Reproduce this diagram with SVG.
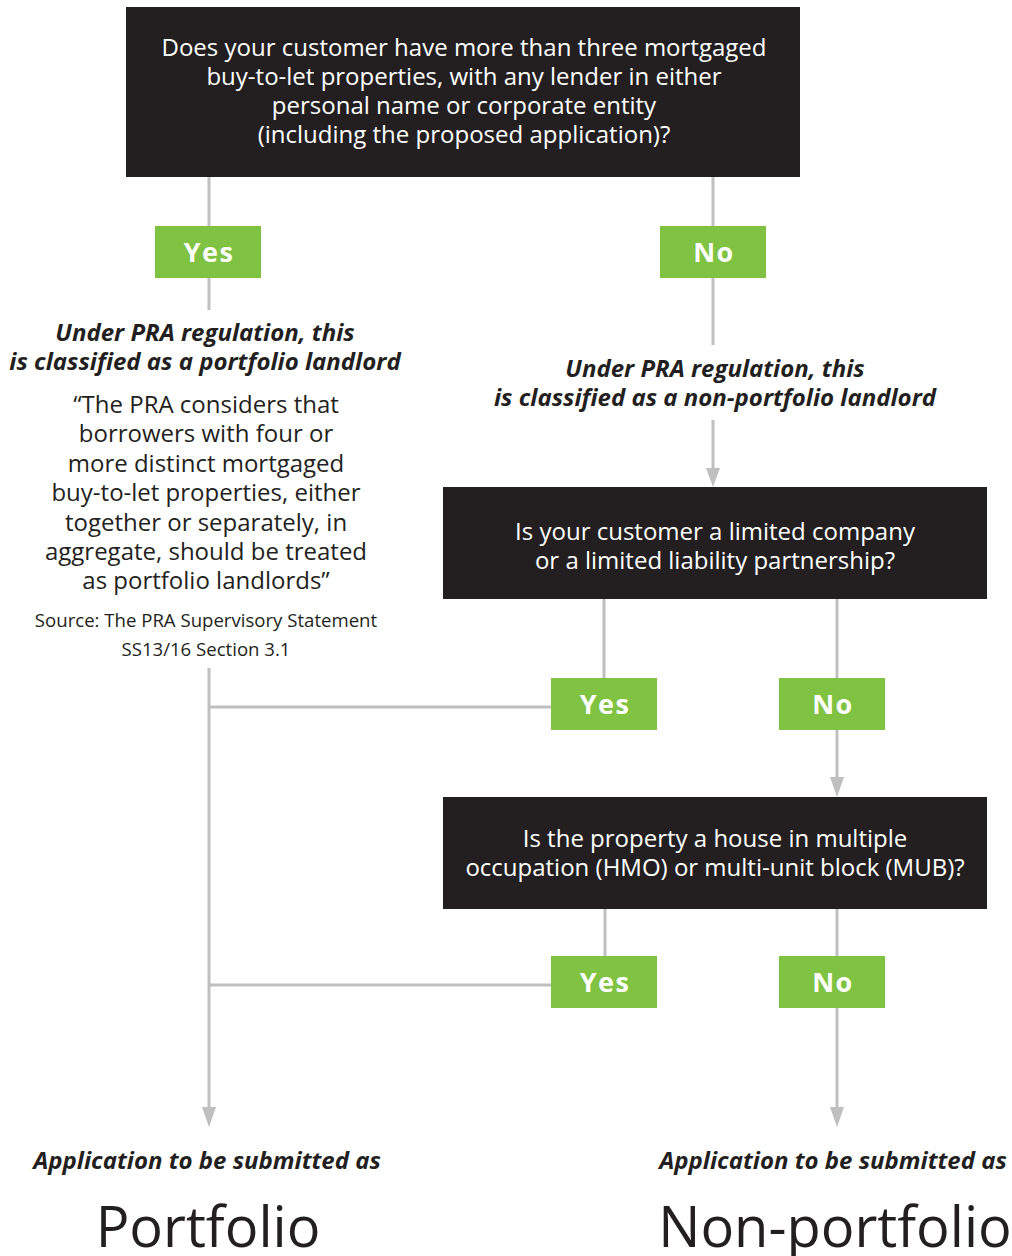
<svg xmlns="http://www.w3.org/2000/svg" width="1012" height="1256" viewBox="0 0 1012 1256">
<defs>
<style>
text{font-family:"Open Sans","Noto Sans","Liberation Sans",sans-serif;text-anchor:middle}
.q{fill:#231f20}
.qt{fill:#ffffff;font-size:24px}
.g{fill:#80c242}
.gt{fill:#ffffff;font-size:27px;font-weight:bold;letter-spacing:1.5px}
.bi{fill:#231f20;font-size:24px;font-weight:bold;font-style:italic}
.body{fill:#231f20;font-size:24px}
.src{fill:#231f20;font-size:18.6px}
.big{fill:#231f20;font-size:56px}
.ln{stroke:#bfbfbf;stroke-width:3;fill:none}
.ah{fill:#bfbfbf}
</style>
</defs>
<g id="connectors">
<line class="ln" x1="209" y1="177" x2="209" y2="310"/>
<line class="ln" x1="713" y1="177" x2="713" y2="345"/>
<line class="ln" x1="713" y1="420" x2="713" y2="472"/>
<path class="ah" d="M706,468 L720,468 L713,487 Z"/>
<line class="ln" x1="209" y1="668" x2="209" y2="1110"/>
<path class="ah" d="M202,1107 L216,1107 L209,1127 Z"/>
<line class="ln" x1="604" y1="599" x2="604" y2="678"/>
<line class="ln" x1="837" y1="599" x2="837" y2="678"/>
<line class="ln" x1="209" y1="707" x2="551" y2="707"/>
<line class="ln" x1="837" y1="730" x2="837" y2="780"/>
<path class="ah" d="M830,777 L844,777 L837,797 Z"/>
<line class="ln" x1="605" y1="909" x2="605" y2="956"/>
<line class="ln" x1="837" y1="909" x2="837" y2="956"/>
<line class="ln" x1="209" y1="985" x2="551" y2="985"/>
<line class="ln" x1="837" y1="1008" x2="837" y2="1110"/>
<path class="ah" d="M830,1107 L844,1107 L837,1127 Z"/>
</g>
<g id="q1">
<rect class="q" x="126" y="7" width="674" height="170"/>
<text class="qt" x="464" y="56">Does your customer have more than three mortgaged</text>
<text class="qt" x="464" y="85">buy-to-let properties, with any lender in either</text>
<text class="qt" x="464" y="114">personal name or corporate entity</text>
<text class="qt" x="464" y="143">(including the proposed application)?</text>
</g>
<g id="yes1">
<rect class="g" x="155" y="226" width="106" height="52"/>
<text class="gt" x="209" y="262">Yes</text>
</g>
<g id="no1">
<rect class="g" x="660" y="226" width="106" height="52"/>
<text class="gt" x="714" y="262">No</text>
</g>
<g id="portfolio-note">
<text class="bi" x="205" y="341">Under PRA regulation, this</text>
<text class="bi" x="205" y="370">is classified as a portfolio landlord</text>
<text class="body" x="206" y="413">“The PRA considers that</text>
<text class="body" x="206" y="442">borrowers with four or</text>
<text class="body" x="206" y="472">more distinct mortgaged</text>
<text class="body" x="206" y="501">buy-to-let properties, either</text>
<text class="body" x="206" y="531">together or separately, in</text>
<text class="body" x="206" y="560">aggregate, should be treated</text>
<text class="body" x="206" y="589">as portfolio landlords”</text>
<text class="src" x="206" y="627">Source: The PRA Supervisory Statement</text>
<text class="src" x="206" y="656">SS13/16 Section 3.1</text>
</g>
<g id="nonportfolio-note">
<text class="bi" x="715" y="377">Under PRA regulation, this</text>
<text class="bi" x="715" y="406">is classified as a non-portfolio landlord</text>
</g>
<g id="q2">
<rect class="q" x="443" y="487" width="544" height="112"/>
<text class="qt" x="715" y="540">Is your customer a limited company</text>
<text class="qt" x="715" y="569">or a limited liability partnership?</text>
</g>
<g id="yes2">
<rect class="g" x="551" y="678" width="106" height="52"/>
<text class="gt" x="605" y="714">Yes</text>
</g>
<g id="no2">
<rect class="g" x="779" y="678" width="106" height="52"/>
<text class="gt" x="833" y="714">No</text>
</g>
<g id="q3">
<rect class="q" x="443" y="797" width="544" height="112"/>
<text class="qt" x="715" y="847">Is the property a house in multiple</text>
<text class="qt" x="715" y="876">occupation (HMO) or multi-unit block (MUB)?</text>
</g>
<g id="yes3">
<rect class="g" x="551" y="956" width="106" height="52"/>
<text class="gt" x="605" y="992">Yes</text>
</g>
<g id="no3">
<rect class="g" x="779" y="956" width="106" height="52"/>
<text class="gt" x="833" y="992">No</text>
</g>
<g id="result-portfolio">
<text class="bi" x="207" y="1169">Application to be submitted as</text>
<text class="big" x="208" y="1247">Portfolio</text>
</g>
<g id="result-nonportfolio">
<text class="bi" x="833" y="1169">Application to be submitted as</text>
<text class="big" x="835" y="1247">Non-portfolio</text>
</g>
</svg>
